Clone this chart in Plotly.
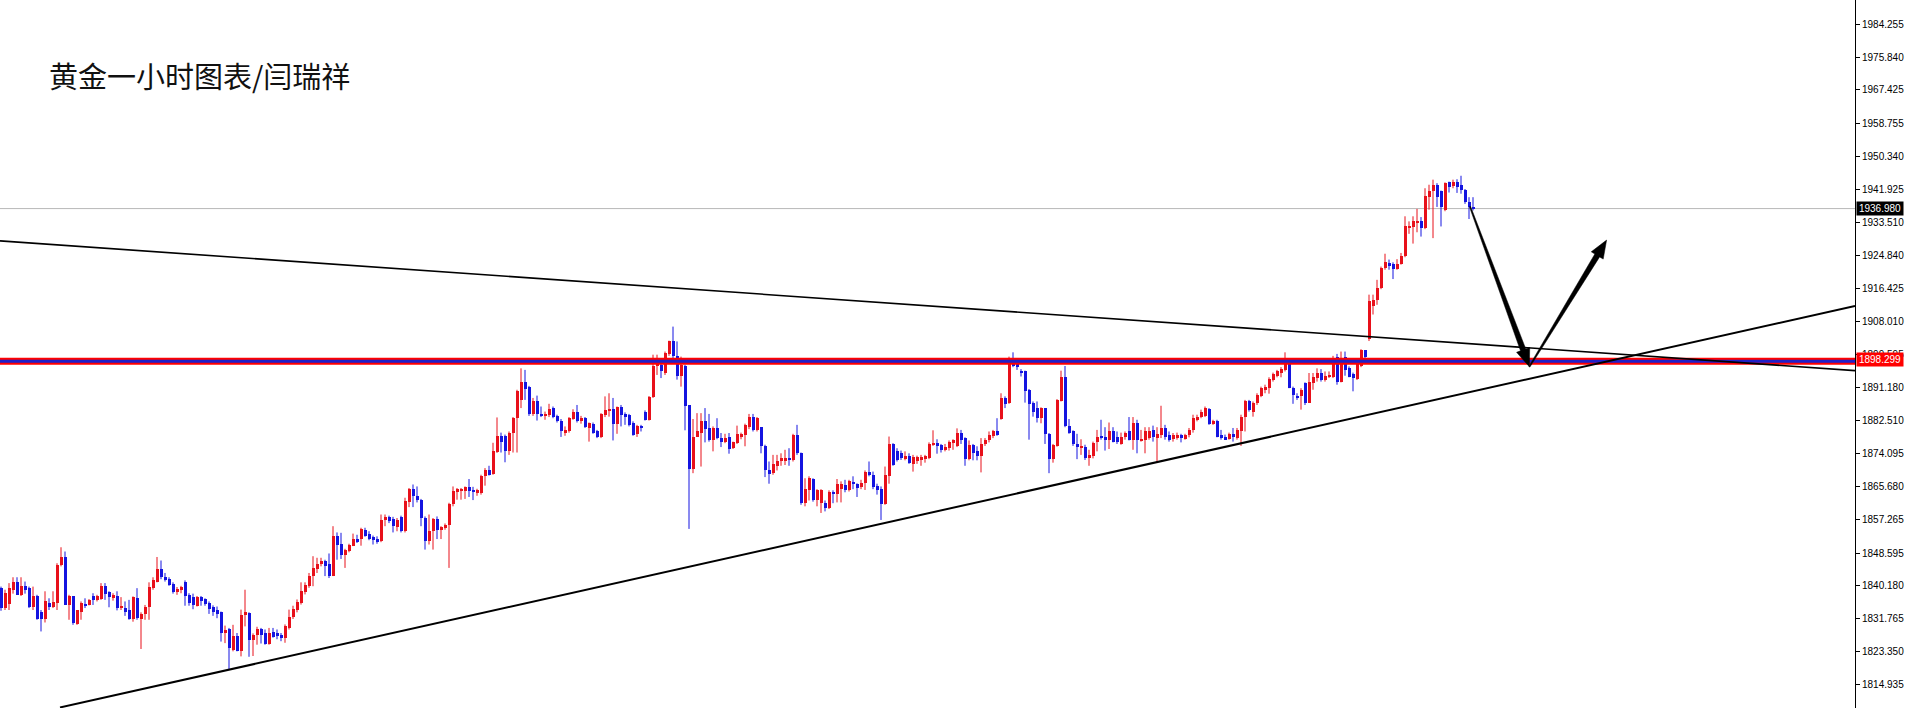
import plotly.graph_objects as go

# ---------------- data ----------------
OPEN = [
1839.6, 1834.5, 1835.6, 1839.2, 1841.1, 1837.9, 1840.2, 1839.6, 1834.9, 1837.6,
1833.6, 1831.7, 1835.9, 1834.9, 1835.9, 1845.6, 1847.7, 1835.3, 1837.5, 1830.5,
1833.6, 1835.5, 1835.3, 1837.5, 1836.6, 1836.8, 1840.2, 1838.5, 1837.0, 1837.6,
1834.5, 1834.6, 1834.0, 1831.7, 1837.0, 1831.7, 1833.0, 1834.9, 1839.6, 1841.3,
1844.5, 1842.4, 1841.9, 1840.7, 1838.7, 1839.3, 1841.2, 1837.9, 1837.3, 1835.1,
1837.3, 1836.8, 1835.9, 1834.9, 1834.0, 1833.4, 1828.0, 1829.1, 1823.8, 1827.4,
1823.6, 1832.7, 1833.2, 1826.4, 1827.5, 1829.0, 1828.1, 1825.4, 1828.3, 1828.1,
1827.7, 1826.7, 1829.4, 1832.2, 1834.0, 1835.8, 1838.6, 1840.1, 1842.7, 1844.6,
1845.7, 1846.5, 1845.9, 1842.8, 1852.9, 1850.9, 1848.2, 1849.1, 1850.5, 1852.1,
1852.1, 1854.6, 1853.6, 1852.8, 1852.1, 1851.6, 1857.0, 1857.9, 1857.4, 1855.3,
1857.9, 1854.2, 1861.6, 1865.1, 1863.3, 1862.3, 1857.6, 1851.6, 1854.2, 1857.4,
1854.6, 1855.1, 1855.9, 1861.3, 1864.4, 1864.5, 1864.5, 1865.6, 1864.9, 1864.0,
1863.9, 1868.3, 1869.8, 1869.0, 1874.5, 1878.7, 1878.7, 1874.9, 1879.5, 1883.2,
1887.8, 1892.4, 1891.2, 1884.3, 1887.5, 1884.3, 1883.8, 1884.1, 1885.8, 1883.8,
1882.6, 1879.5, 1879.8, 1883.0, 1884.9, 1882.6, 1883.2, 1880.7, 1881.8, 1879.8,
1878.4, 1884.0, 1885.3, 1885.5, 1881.8, 1886.0, 1884.3, 1884.1, 1882.1, 1879.2,
1881.3, 1884.9, 1882.8, 1888.6, 1896.6, 1896.9, 1894.9, 1899.7, 1902.9, 1899.2,
1894.1, 1896.6, 1886.6, 1870.1, 1878.4, 1879.5, 1882.4, 1880.7, 1877.5, 1880.7,
1878.1, 1877.0, 1878.4, 1875.5, 1876.8, 1878.5, 1879.0, 1880.9, 1883.5, 1880.2,
1880.9, 1876.1, 1870.0, 1869.1, 1871.0, 1872.1, 1872.4, 1873.0, 1872.5, 1878.9,
1874.2, 1861.4, 1864.8, 1867.6, 1862.3, 1861.4, 1861.4, 1860.1, 1864.4, 1863.8,
1865.0, 1866.1, 1864.7, 1866.7, 1866.4, 1865.5, 1866.5, 1869.5, 1868.7, 1865.7,
1865.0, 1861.2, 1868.3, 1876.6, 1874.9, 1874.4, 1872.7, 1873.4, 1871.5, 1872.1,
1872.7, 1872.7, 1872.9, 1876.4, 1876.8, 1876.4, 1875.1, 1875.5, 1876.8, 1876.1,
1879.5, 1878.1, 1872.7, 1876.4, 1874.7, 1873.6, 1876.6, 1877.5, 1878.7, 1879.8,
1883.0, 1888.3, 1887.1, 1898.2, 1897.1, 1895.4, 1895.2, 1890.5, 1887.1, 1885.8,
1883.2, 1885.8, 1879.2, 1872.7, 1876.1, 1887.7, 1893.9, 1881.3, 1879.8, 1876.6,
1875.5, 1875.9, 1873.0, 1873.4, 1877.0, 1878.7, 1878.3, 1877.7, 1879.8, 1878.3,
1876.6, 1878.5, 1879.8, 1877.7, 1881.9, 1877.5, 1877.7, 1878.1, 1880.2, 1878.1,
1879.0, 1880.7, 1879.0, 1877.8, 1878.1, 1879.0, 1877.8, 1879.0, 1880.1, 1882.8,
1883.6, 1883.8, 1885.5, 1881.9, 1882.4, 1879.0, 1878.3, 1877.8, 1879.2, 1878.1,
1879.8, 1883.6, 1887.5, 1884.9, 1887.1, 1888.9, 1890.5, 1890.9, 1893.0, 1894.1,
1894.9, 1895.6, 1897.3, 1890.9, 1888.9, 1888.8, 1892.2, 1887.2, 1892.2, 1893.5,
1894.8, 1892.9, 1893.9, 1893.9, 1899.0, 1892.6, 1899.0, 1896.0, 1894.6, 1893.2,
1896.5, 1900.6, 1903.5, 1911.9, 1913.6, 1916.6, 1921.7, 1923.0, 1922.8, 1921.5,
1922.8, 1924.7, 1932.0, 1932.2, 1933.3, 1933.7, 1932.0, 1940.0, 1941.4, 1943.1,
1941.4, 1936.7, 1943.7, 1942.7, 1943.9, 1943.1, 1941.8, 1938.6, 1937.4,
]

HIGH = [
1840.0, 1839.2, 1840.9, 1842.4, 1842.4, 1842.4, 1841.3, 1840.0, 1840.0, 1837.9,
1834.0, 1838.8, 1837.0, 1838.8, 1846.0, 1850.1, 1849.0, 1837.9, 1837.5, 1834.0,
1836.2, 1837.0, 1836.8, 1838.3, 1837.9, 1840.9, 1840.9, 1838.8, 1838.3, 1838.8,
1837.3, 1836.2, 1836.6, 1837.5, 1839.6, 1833.4, 1835.3, 1841.1, 1842.4, 1847.6,
1846.7, 1843.5, 1842.4, 1841.1, 1839.9, 1840.2, 1841.6, 1838.3, 1838.2, 1837.6,
1837.6, 1837.0, 1836.2, 1835.2, 1834.9, 1833.6, 1830.0, 1829.4, 1830.2, 1828.1,
1834.1, 1839.2, 1833.4, 1828.0, 1829.7, 1829.4, 1829.0, 1829.4, 1829.4, 1829.0,
1828.1, 1830.3, 1834.1, 1835.1, 1836.7, 1841.1, 1841.1, 1843.5, 1847.8, 1847.4,
1847.4, 1846.9, 1848.5, 1855.5, 1853.9, 1853.8, 1849.7, 1851.0, 1853.6, 1853.3,
1855.1, 1855.1, 1854.2, 1853.1, 1852.9, 1858.5, 1858.5, 1858.2, 1857.9, 1857.6,
1858.2, 1862.8, 1865.3, 1866.2, 1865.7, 1862.5, 1858.0, 1858.5, 1857.6, 1858.0,
1855.5, 1856.2, 1861.5, 1865.7, 1865.3, 1865.3, 1865.7, 1867.6, 1865.6, 1865.1,
1868.7, 1870.4, 1871.0, 1876.9, 1883.4, 1879.5, 1879.0, 1879.8, 1883.5, 1890.5,
1896.0, 1895.6, 1891.5, 1888.4, 1889.0, 1886.2, 1884.9, 1886.9, 1886.2, 1884.1,
1883.0, 1881.1, 1883.5, 1885.5, 1886.6, 1883.8, 1883.5, 1882.1, 1882.1, 1880.2,
1884.5, 1888.8, 1889.6, 1888.4, 1886.2, 1886.6, 1884.7, 1884.3, 1882.4, 1881.5,
1881.5, 1885.2, 1888.9, 1899.5, 1899.5, 1898.4, 1900.3, 1903.1, 1906.7, 1902.9,
1899.0, 1896.9, 1886.6, 1883.0, 1884.5, 1884.5, 1885.8, 1884.3, 1881.1, 1883.2,
1879.4, 1879.2, 1879.4, 1877.2, 1881.3, 1879.5, 1881.8, 1884.3, 1884.3, 1883.5,
1880.9, 1876.4, 1872.1, 1873.8, 1873.8, 1874.2, 1875.1, 1875.5, 1879.2, 1881.5,
1874.4, 1867.8, 1868.3, 1867.8, 1865.0, 1865.0, 1862.1, 1864.7, 1864.7, 1867.6,
1867.0, 1867.4, 1867.4, 1868.3, 1866.5, 1867.4, 1869.8, 1872.1, 1869.5, 1866.4,
1865.7, 1870.8, 1878.5, 1876.8, 1875.5, 1874.9, 1874.7, 1874.2, 1873.8, 1873.6,
1873.8, 1873.8, 1877.0, 1880.1, 1877.8, 1876.6, 1876.6, 1877.5, 1877.8, 1880.6,
1880.2, 1878.3, 1877.5, 1876.6, 1876.0, 1878.1, 1878.1, 1879.8, 1880.2, 1883.2,
1889.6, 1888.8, 1899.0, 1900.1, 1897.7, 1895.8, 1895.4, 1890.7, 1887.5, 1887.5,
1886.0, 1885.8, 1879.4, 1876.6, 1888.1, 1895.4, 1896.6, 1883.0, 1880.1, 1879.2,
1877.8, 1876.4, 1875.1, 1877.2, 1880.2, 1882.8, 1880.9, 1882.1, 1880.9, 1879.8,
1879.5, 1879.8, 1883.5, 1883.5, 1882.8, 1880.2, 1880.9, 1880.9, 1881.3, 1880.9,
1886.4, 1881.5, 1879.8, 1879.4, 1879.5, 1879.2, 1879.2, 1880.7, 1884.1, 1884.1,
1885.4, 1886.2, 1885.8, 1882.8, 1882.8, 1880.2, 1879.0, 1879.5, 1880.7, 1880.7,
1884.1, 1887.9, 1887.9, 1887.5, 1889.6, 1891.3, 1891.8, 1893.7, 1894.9, 1895.6,
1896.3, 1900.1, 1897.7, 1891.3, 1889.6, 1890.9, 1892.4, 1894.8, 1894.8, 1896.0,
1895.8, 1895.2, 1895.2, 1899.2, 1899.7, 1900.3, 1900.3, 1896.5, 1894.9, 1898.6,
1900.9, 1900.7, 1914.9, 1914.9, 1918.7, 1922.1, 1925.4, 1923.9, 1923.2, 1924.0,
1925.6, 1935.0, 1933.7, 1935.0, 1936.9, 1934.8, 1942.2, 1943.1, 1944.4, 1943.5,
1941.6, 1943.7, 1943.9, 1944.4, 1944.5, 1945.4, 1942.0, 1939.9, 1939.9,
]

LOW = [
1833.8, 1834.0, 1834.0, 1838.2, 1837.9, 1837.6, 1838.2, 1834.5, 1834.0, 1831.5,
1828.5, 1830.8, 1834.0, 1834.5, 1834.0, 1845.2, 1835.3, 1831.5, 1830.2, 1830.2,
1831.5, 1834.5, 1835.2, 1835.3, 1836.2, 1836.6, 1836.6, 1834.7, 1836.4, 1833.9,
1834.0, 1832.5, 1831.5, 1831.0, 1831.5, 1824.0, 1831.5, 1831.5, 1839.2, 1841.1,
1841.9, 1841.3, 1840.2, 1838.2, 1837.9, 1838.3, 1835.1, 1835.1, 1834.2, 1834.9,
1835.1, 1835.1, 1833.0, 1832.5, 1831.9, 1825.9, 1825.5, 1818.7, 1823.4, 1823.4,
1822.1, 1829.8, 1822.0, 1822.2, 1825.1, 1825.4, 1825.1, 1825.1, 1826.9, 1826.5,
1826.0, 1825.6, 1829.0, 1831.7, 1833.4, 1835.4, 1838.0, 1839.7, 1840.1, 1843.5,
1845.2, 1842.7, 1842.2, 1842.7, 1846.9, 1847.1, 1844.8, 1848.8, 1850.4, 1851.2,
1850.5, 1852.8, 1851.9, 1850.8, 1851.0, 1851.4, 1855.5, 1856.3, 1853.9, 1854.2,
1853.9, 1853.9, 1860.4, 1860.4, 1861.6, 1855.5, 1849.5, 1850.8, 1849.5, 1852.2,
1852.2, 1854.6, 1844.8, 1860.6, 1862.3, 1862.3, 1862.5, 1863.0, 1862.2, 1863.3,
1863.6, 1865.9, 1868.5, 1868.7, 1874.3, 1874.4, 1871.9, 1873.8, 1874.4, 1874.4,
1885.8, 1887.9, 1883.8, 1883.8, 1882.6, 1883.5, 1882.8, 1883.5, 1883.2, 1882.1,
1878.4, 1878.7, 1879.5, 1882.8, 1882.1, 1881.8, 1880.7, 1877.2, 1879.2, 1878.1,
1878.1, 1883.5, 1883.6, 1877.5, 1879.2, 1881.1, 1881.5, 1881.1, 1878.7, 1878.4,
1879.8, 1882.6, 1882.6, 1888.4, 1894.3, 1893.5, 1894.3, 1899.2, 1898.2, 1893.1,
1891.3, 1880.1, 1854.8, 1869.1, 1878.4, 1870.8, 1877.0, 1877.2, 1874.7, 1877.8,
1875.8, 1876.8, 1874.1, 1875.3, 1876.6, 1877.8, 1876.0, 1880.4, 1879.8, 1879.8,
1874.2, 1868.1, 1866.4, 1868.7, 1869.8, 1871.0, 1871.2, 1871.0, 1872.1, 1873.8,
1861.0, 1860.6, 1862.1, 1861.8, 1860.6, 1858.9, 1859.3, 1859.9, 1861.4, 1861.6,
1861.6, 1864.2, 1864.4, 1865.0, 1863.0, 1865.0, 1864.8, 1868.3, 1865.0, 1863.6,
1857.1, 1861.0, 1866.4, 1871.0, 1872.1, 1872.5, 1872.4, 1871.5, 1869.5, 1871.5,
1871.0, 1871.8, 1872.7, 1876.1, 1874.1, 1874.4, 1874.7, 1874.9, 1875.1, 1875.8,
1876.6, 1871.0, 1872.4, 1872.4, 1872.4, 1869.3, 1876.1, 1877.0, 1878.1, 1878.7,
1882.8, 1885.8, 1886.9, 1896.3, 1895.6, 1893.9, 1887.2, 1877.7, 1883.6, 1882.1,
1881.9, 1876.6, 1869.1, 1871.8, 1875.9, 1887.5, 1880.9, 1879.2, 1876.1, 1872.7,
1873.8, 1872.5, 1871.0, 1872.9, 1874.7, 1877.7, 1874.9, 1875.3, 1877.0, 1876.6,
1876.4, 1877.7, 1877.5, 1875.1, 1874.2, 1877.2, 1874.2, 1877.7, 1877.2, 1871.8,
1878.1, 1877.7, 1877.2, 1877.2, 1877.7, 1877.0, 1877.7, 1878.3, 1879.5, 1882.4,
1883.2, 1883.5, 1881.5, 1881.5, 1878.3, 1877.7, 1877.7, 1877.7, 1877.2, 1877.7,
1876.1, 1879.8, 1884.9, 1883.6, 1886.6, 1888.6, 1889.6, 1889.5, 1892.6, 1893.7,
1893.7, 1895.2, 1890.9, 1886.9, 1887.9, 1885.4, 1886.6, 1887.1, 1890.5, 1892.6,
1892.6, 1892.6, 1893.5, 1893.5, 1891.8, 1892.4, 1894.1, 1893.7, 1890.1, 1893.0,
1896.3, 1898.6, 1903.0, 1909.8, 1912.3, 1916.3, 1921.3, 1921.3, 1918.9, 1921.3,
1922.6, 1924.5, 1930.5, 1928.0, 1930.9, 1929.8, 1931.7, 1936.7, 1929.4, 1937.4,
1932.4, 1936.3, 1941.1, 1942.2, 1941.0, 1940.8, 1938.2, 1934.3, 1936.5,
]

CLOSE = [
1834.5, 1838.3, 1839.6, 1841.1, 1837.9, 1840.2, 1839.2, 1834.9, 1837.6, 1831.7,
1831.7, 1836.2, 1834.9, 1836.1, 1845.6, 1847.7, 1835.3, 1837.5, 1830.6, 1833.9,
1835.8, 1835.2, 1836.6, 1836.6, 1837.6, 1840.2, 1838.2, 1837.3, 1837.8, 1834.5,
1835.1, 1833.6, 1831.7, 1837.3, 1831.9, 1833.0, 1834.9, 1840.0, 1841.6, 1844.5,
1842.4, 1841.9, 1840.5, 1838.5, 1839.5, 1839.8, 1837.6, 1835.8, 1835.3, 1837.3,
1836.2, 1835.6, 1834.2, 1833.4, 1833.0, 1828.1, 1828.9, 1824.2, 1827.4, 1823.6,
1832.8, 1833.4, 1826.4, 1827.6, 1829.0, 1827.7, 1825.4, 1828.1, 1827.1, 1827.3,
1826.7, 1829.8, 1832.2, 1834.3, 1836.0, 1838.8, 1840.5, 1842.8, 1844.8, 1845.9,
1846.5, 1845.2, 1842.8, 1852.9, 1850.8, 1848.2, 1849.3, 1850.8, 1852.1, 1851.6,
1854.8, 1852.9, 1852.2, 1851.9, 1851.6, 1857.2, 1857.9, 1856.8, 1855.5, 1857.2,
1854.2, 1861.9, 1865.1, 1863.2, 1862.2, 1857.6, 1851.6, 1854.2, 1857.4, 1854.5,
1855.3, 1855.9, 1861.3, 1864.5, 1865.1, 1865.1, 1865.6, 1864.5, 1864.2, 1864.7,
1868.5, 1869.8, 1868.7, 1874.7, 1878.7, 1877.2, 1874.7, 1879.5, 1883.2, 1890.3,
1892.4, 1890.7, 1884.3, 1887.5, 1884.3, 1883.8, 1884.3, 1885.5, 1883.5, 1882.4,
1879.8, 1880.1, 1883.2, 1884.9, 1882.6, 1883.2, 1880.9, 1881.9, 1879.5, 1878.5,
1884.3, 1885.4, 1885.5, 1881.8, 1886.0, 1884.1, 1883.5, 1881.5, 1879.0, 1881.3,
1880.9, 1882.8, 1888.6, 1896.6, 1898.4, 1895.2, 1899.9, 1902.9, 1899.2, 1894.1,
1896.9, 1886.4, 1870.1, 1878.5, 1879.8, 1882.4, 1880.4, 1877.5, 1880.7, 1878.1,
1877.0, 1878.1, 1875.3, 1877.0, 1879.2, 1879.2, 1881.5, 1883.6, 1880.1, 1883.2,
1876.0, 1869.8, 1868.9, 1871.5, 1872.1, 1873.0, 1872.9, 1872.4, 1878.9, 1874.2,
1861.4, 1865.0, 1867.8, 1862.3, 1864.7, 1864.8, 1860.1, 1864.2, 1863.8, 1866.4,
1866.4, 1864.7, 1867.0, 1866.4, 1865.3, 1866.7, 1869.5, 1868.7, 1865.5, 1864.7,
1861.2, 1868.7, 1876.6, 1871.2, 1872.4, 1872.9, 1873.6, 1871.7, 1873.2, 1873.2,
1873.2, 1873.6, 1876.6, 1876.8, 1876.1, 1875.1, 1875.9, 1877.2, 1877.7, 1879.5,
1877.5, 1872.7, 1876.4, 1874.2, 1873.6, 1876.6, 1877.7, 1878.9, 1879.8, 1879.0,
1888.3, 1886.9, 1898.2, 1896.5, 1896.3, 1894.8, 1890.1, 1886.9, 1884.9, 1883.2,
1885.8, 1879.2, 1872.7, 1876.4, 1887.9, 1893.9, 1881.1, 1879.5, 1876.6, 1875.9,
1876.1, 1872.9, 1873.8, 1876.8, 1878.5, 1878.1, 1877.7, 1879.8, 1877.2, 1877.2,
1878.5, 1879.5, 1877.7, 1881.9, 1877.5, 1877.8, 1879.8, 1879.8, 1878.5, 1879.2,
1880.7, 1878.5, 1877.5, 1879.0, 1879.0, 1878.1, 1879.0, 1880.2, 1883.2, 1883.6,
1884.9, 1885.8, 1881.8, 1882.4, 1878.5, 1878.1, 1877.8, 1879.2, 1878.3, 1880.2,
1883.6, 1887.5, 1885.2, 1887.1, 1889.2, 1890.9, 1891.3, 1893.2, 1894.6, 1895.2,
1895.8, 1897.3, 1890.9, 1889.2, 1888.6, 1890.5, 1887.1, 1892.4, 1893.9, 1894.8,
1892.9, 1894.1, 1894.3, 1898.6, 1892.6, 1898.6, 1895.6, 1893.9, 1893.5, 1898.2,
1900.6, 1898.9, 1913.2, 1913.6, 1916.6, 1921.7, 1923.4, 1922.3, 1921.5, 1922.8,
1924.9, 1932.4, 1932.4, 1933.7, 1933.7, 1932.0, 1940.1, 1941.4, 1943.1, 1939.9,
1937.5, 1943.5, 1942.5, 1943.9, 1942.5, 1941.8, 1938.6, 1937.4, 1936.98,
]

TICK_VALUES = [1984.255, 1975.840, 1967.425, 1958.755, 1950.340, 1941.925, 1933.510,
               1924.840, 1916.425, 1908.010, 1899.595, 1891.180, 1882.510, 1874.095,
               1865.680, 1857.265, 1848.595, 1840.180, 1831.765, 1823.350, 1814.935]
TICK_LABELS = ["%.3f" % v for v in TICK_VALUES]

TITLE = "黄金一小时图表/闫瑞祥"
BID_PRICE = 1936.98
LEVEL_PRICE = 1898.299
BAND_PRICE = 1897.8

# trend lines (candle index, price)
ASC_LINE = [(15.75, 1809.0), (464.5, 1912.0)]
DESC_LINE = [(0.75, 1928.7), (464.5, 1895.4)]
# hand-drawn arrows (start, tip) in (candle index, price)
ARROWS = [((368.25, 1937.5), (383.1, 1896.4)),
          ((383.1, 1896.4), (402.4, 1928.9))]

# ---------------- figure ----------------
W, H = 1906, 708
ML, MR = 0, 51
PW, PH = W - ML - MR, H
X_RANGE = [0.75, 464.5]
Y_RANGE = [1808.86, 1990.49]

UP_COLOR = "#e8101a"
DOWN_COLOR = "#1414e0"

n = min(len(OPEN), len(HIGH), len(LOW), len(CLOSE))
idx = list(range(1, n + 1))
MIN_BODY = (Y_RANGE[1] - Y_RANGE[0]) / PH  # 1px

fig = go.Figure()
for up, color in ((True, UP_COLOR), (False, DOWN_COLOR)):
    xs, base, hgt, wx, wy = [], [], [], [], []
    for i in range(n):
        o, h, l, c = OPEN[i], HIGH[i], LOW[i], CLOSE[i]
        if (c >= o) != up:
            continue
        lo, hi = min(o, c), max(o, c)
        xs.append(idx[i])
        base.append(lo)
        hgt.append(max(hi - lo, MIN_BODY))
        wx += [idx[i], idx[i], None]
        wy += [l, h, None]
    fig.add_trace(go.Scatter(x=wx, y=wy, mode="lines", line=dict(color=color, width=1),
                             hoverinfo="skip", showlegend=False))
    fig.add_trace(go.Bar(x=xs, y=hgt, base=base, width=0.75,
                         marker=dict(color=color, line=dict(width=0)),
                         showlegend=False, hoverinfo="skip"))

shapes = []
# bid line
shapes.append(dict(type="line", xref="paper", yref="y", x0=0, x1=1, y0=BID_PRICE, y1=BID_PRICE,
                   line=dict(color="#b8b8b8", width=1), layer="below"))
# red/blue horizontal band
shapes.append(dict(type="line", xref="paper", yref="y", x0=0, x1=1, y0=BAND_PRICE, y1=BAND_PRICE,
                   line=dict(color="#ff0000", width=7)))
shapes.append(dict(type="line", xref="paper", yref="y", x0=0, x1=1, y0=BAND_PRICE, y1=BAND_PRICE,
                   line=dict(color="#2020c8", width=3)))
# trend lines
for (p0, p1), wdt in ((ASC_LINE, 2), (DESC_LINE, 1.6)):
    shapes.append(dict(type="line", xref="x", yref="y", x0=p0[0], y0=p0[1], x1=p1[0], y1=p1[1],
                       line=dict(color="black", width=wdt)))

# tapered arrows
sx = PW / (X_RANGE[1] - X_RANGE[0])
sy = PH / (Y_RANGE[1] - Y_RANGE[0])


def to_px(p):
    return ((p[0] - X_RANGE[0]) * sx, (Y_RANGE[1] - p[1]) * sy)


def to_data(q):
    return (q[0] / sx + X_RANGE[0], Y_RANGE[1] - q[1] / sy)


for start, tip in ARROWS:
    s, t = to_px(start), to_px(tip)
    dx, dy = t[0] - s[0], t[1] - s[1]
    L = (dx * dx + dy * dy) ** 0.5
    ux, uy = dx / L, dy / L
    nx, ny = -uy, ux
    head_len, head_w, w0, w1 = 18, 7, 0.6, 2.8
    b = (t[0] - ux * head_len, t[1] - uy * head_len)
    pts = [(s[0] + nx * w0, s[1] + ny * w0), (b[0] + nx * w1, b[1] + ny * w1),
           (b[0] + nx * head_w, b[1] + ny * head_w), t,
           (b[0] - nx * head_w, b[1] - ny * head_w), (b[0] - nx * w1, b[1] - ny * w1),
           (s[0] - nx * w0, s[1] - ny * w0)]
    dpts = [to_data(q) for q in pts]
    path = "M " + " L ".join("%.4f,%.4f" % q for q in dpts) + " Z"
    shapes.append(dict(type="path", xref="x", yref="y", path=path,
                       fillcolor="black", line=dict(color="black", width=0.5)))

annotations = [
    dict(text=TITLE, xref="paper", yref="paper", x=47 / PW, y=1 - 75 / PH,
         xanchor="left", yanchor="middle", showarrow=False,
         font=dict(family="Noto Sans CJK SC", size=29, color="#111111")),
    dict(text="%.3f" % BID_PRICE, xref="paper", yref="y", x=1, y=BID_PRICE,
         xanchor="left", yanchor="middle", showarrow=False, xshift=1,
         bgcolor="black", borderpad=1, width=44, height=11,
         font=dict(family="Liberation Sans", size=10, color="white")),
    dict(text="%.3f" % LEVEL_PRICE, xref="paper", yref="y", x=1, y=LEVEL_PRICE,
         xanchor="left", yanchor="middle", showarrow=False, xshift=1,
         bgcolor="#ff0000", borderpad=1, width=44, height=11,
         font=dict(family="Liberation Sans", size=10, color="white")),
]

fig.update_layout(
    width=W, height=H, autosize=False,
    margin=dict(l=ML, r=MR, t=0, b=0, pad=0),
    paper_bgcolor="white", plot_bgcolor="white",
    barmode="overlay", bargap=0, showlegend=False,
    xaxis=dict(range=X_RANGE, visible=False, fixedrange=True),
    yaxis=dict(range=Y_RANGE, side="right", showgrid=False, zeroline=False,
               showline=True, linecolor="black", linewidth=1,
               ticks="outside", ticklen=4, tickcolor="black", tickwidth=1,
               tickvals=TICK_VALUES, ticktext=TICK_LABELS,
               tickfont=dict(family="Liberation Sans", size=10, color="black")),
    shapes=shapes, annotations=annotations,
)

fig.write_html("out.html", config={"displayModeBar": False},
               post_script="document.body.style.margin='0';")
